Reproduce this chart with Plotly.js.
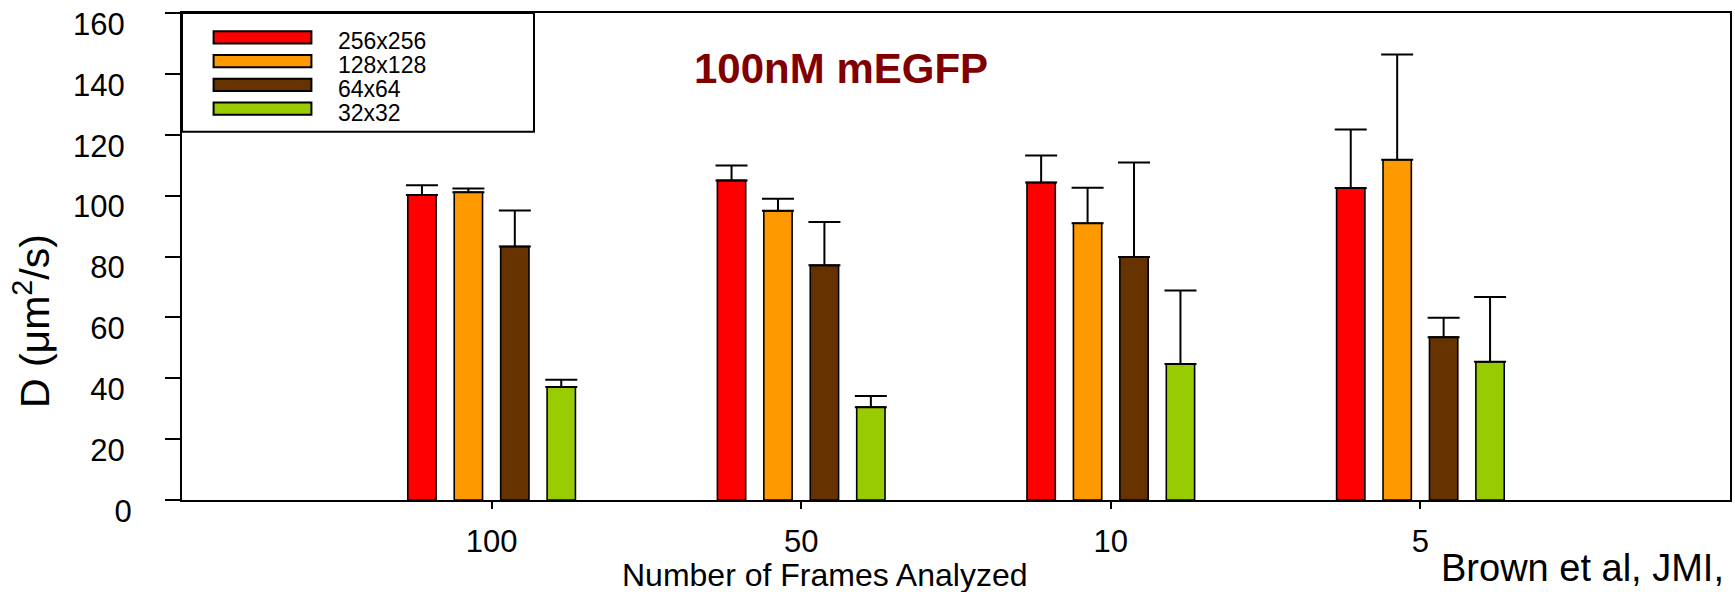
<!DOCTYPE html>
<html>
<head>
<meta charset="utf-8">
<script src="https://cdn.plot.ly/plotly-3.0.1.min.js"></script>
<style>html,body{margin:0;padding:0;background:#fff;}#chart{width:1735px;height:592px;}</style>
</head>
<body>
<div id="chart"></div>
<script>
// ---- data ----
const categories = ['100', '50', '10', '5'];
const seriesNames = ['256x256', '128x128', '64x64', '32x32'];
const seriesColors = ['#FF0000', '#FF9900', '#663300', '#99CC00'];
const d256 = [100.2, 105.0, 104.3, 102.5];
const d128 = [101.1, 95.0, 90.9, 111.8];
const d64  = [83.3, 77.1, 79.8, 53.5];
const d32  = [37.1, 30.5, 44.7, 45.4];
const e256 = [3.2, 4.9, 8.9, 19.2];
const e128 = [1.2, 4.0, 11.7, 34.6];
const e64  = [11.8, 14.2, 31.1, 6.4];
const e32  = [2.4, 3.7, 24.1, 21.3];
const yTickVals = [0, 20, 40, 60, 80, 100, 120, 140, 160];

const FONT = 'Liberation Sans, Arial, Helvetica, sans-serif';
const values = [d256, d128, d64, d32];
const errors = [e256, e128, e64, e32];

const traces = seriesNames.map((name, i) => ({
  type: 'bar',
  name: name,
  x: categories,
  y: values[i],
  marker: { color: seriesColors[i], line: { color: '#000', width: 1.6 } },
  error_y: {
    type: 'data', symmetric: false,
    array: errors[i], arrayminus: errors[i].map(() => 0),
    color: '#000', thickness: 2, width: 16
  },
  showlegend: false,
  hoverinfo: 'x+y'
}));

// custom legend (wide swatches like the reference), built from the series arrays
const shapes = [{
  type: 'rect', xref: 'paper', yref: 'y',
  x0: 0, x1: 0.2274, y0: 121, y1: 160,
  line: { color: '#000', width: 2 }, fillcolor: 'rgba(255,255,255,0)'
}];
const annotations = [];
seriesNames.forEach((name, i) => {
  const c = 152 - i * 7.8;
  shapes.push({
    type: 'rect', xref: 'paper', yref: 'y',
    x0: 0.0204, x1: 0.0836, y0: c - 2.0, y1: c + 2.0,
    fillcolor: seriesColors[i], line: { color: '#000', width: 2 }
  });
  annotations.push({
    xref: 'paper', yref: 'y', x: 0.0993, y: c - 1.3,
    xanchor: 'left', yanchor: 'middle', showarrow: false,
    text: name, font: { family: FONT, size: 23, color: '#000' }
  });
});

annotations.push(
  { xref: 'paper', yref: 'paper', x: 0.4257, y: 0.887, xanchor: 'center', yanchor: 'middle',
    showarrow: false, text: '<b>100nM mEGFP</b>', font: { family: FONT, size: 42, color: '#800000' } },
  { xref: 'paper', yref: 'paper', x: -0.097, y: 0.367, xanchor: 'center', yanchor: 'middle',
    showarrow: false, textangle: -90, text: 'D (μm<sup>2</sup>/s)', font: { family: FONT, size: 41, color: '#000' } },
  { xref: 'paper', yref: 'paper', x: 0.4154, y: -0.153, xanchor: 'center', yanchor: 'middle',
    showarrow: false, text: 'Number of Frames Analyzed', font: { family: FONT, size: 32, color: '#000' } },
  { xref: 'paper', yref: 'paper', x: 0.9974, y: -0.139, xanchor: 'right', yanchor: 'middle',
    showarrow: false, text: 'Brown et al, JMI,', font: { family: FONT, size: 38, color: '#000' } }
);

const layout = {
  width: 1735, height: 592,
  margin: { l: 182, r: 5, t: 13, b: 92, pad: 0 },
  paper_bgcolor: '#fff', plot_bgcolor: '#fff',
  font: { family: FONT, color: '#000' },
  barmode: 'group', bargap: 0.4, bargroupgap: 0.39,
  showlegend: false,
  xaxis: {
    type: 'category', range: [-1, 4], fixedrange: true,
    showline: true, linecolor: '#000', linewidth: 2, mirror: true,
    ticks: 'outside', ticklen: 7, tickwidth: 2, tickcolor: '#000',
    tickfont: { family: FONT, size: 31, color: '#000' },
    ticklabelstandoff: 6, ticklabeloverflow: 'allow',
    showgrid: false, zeroline: false
  },
  yaxis: {
    range: [0, 160], fixedrange: true,
    tickmode: 'array', tickvals: yTickVals, ticktext: yTickVals.map(String),
    showline: true, linecolor: '#000', linewidth: 2, mirror: true,
    ticks: 'outside', ticklen: 15, tickwidth: 2, tickcolor: '#000',
    tickfont: { family: FONT, size: 31, color: '#000' },
    ticklabelstandoff: 34, ticklabeloverflow: 'allow',
    showgrid: false, zeroline: false
  },
  shapes: shapes,
  annotations: annotations
};

Plotly.newPlot('chart', traces, layout, { staticPlot: true, displayModeBar: false }).then(gd => {
  // in the reference the y tick labels sit a little below their tick marks
  gd.querySelectorAll('g.yaxislayer-above g.ytick').forEach(g => {
    const t = g.querySelector('text');
    const dx = (t && t.textContent.trim() === '0') ? 7 : 0;
    g.setAttribute('transform', 'translate(' + dx + ',11)');
  });
});
</script>
</body>
</html>
